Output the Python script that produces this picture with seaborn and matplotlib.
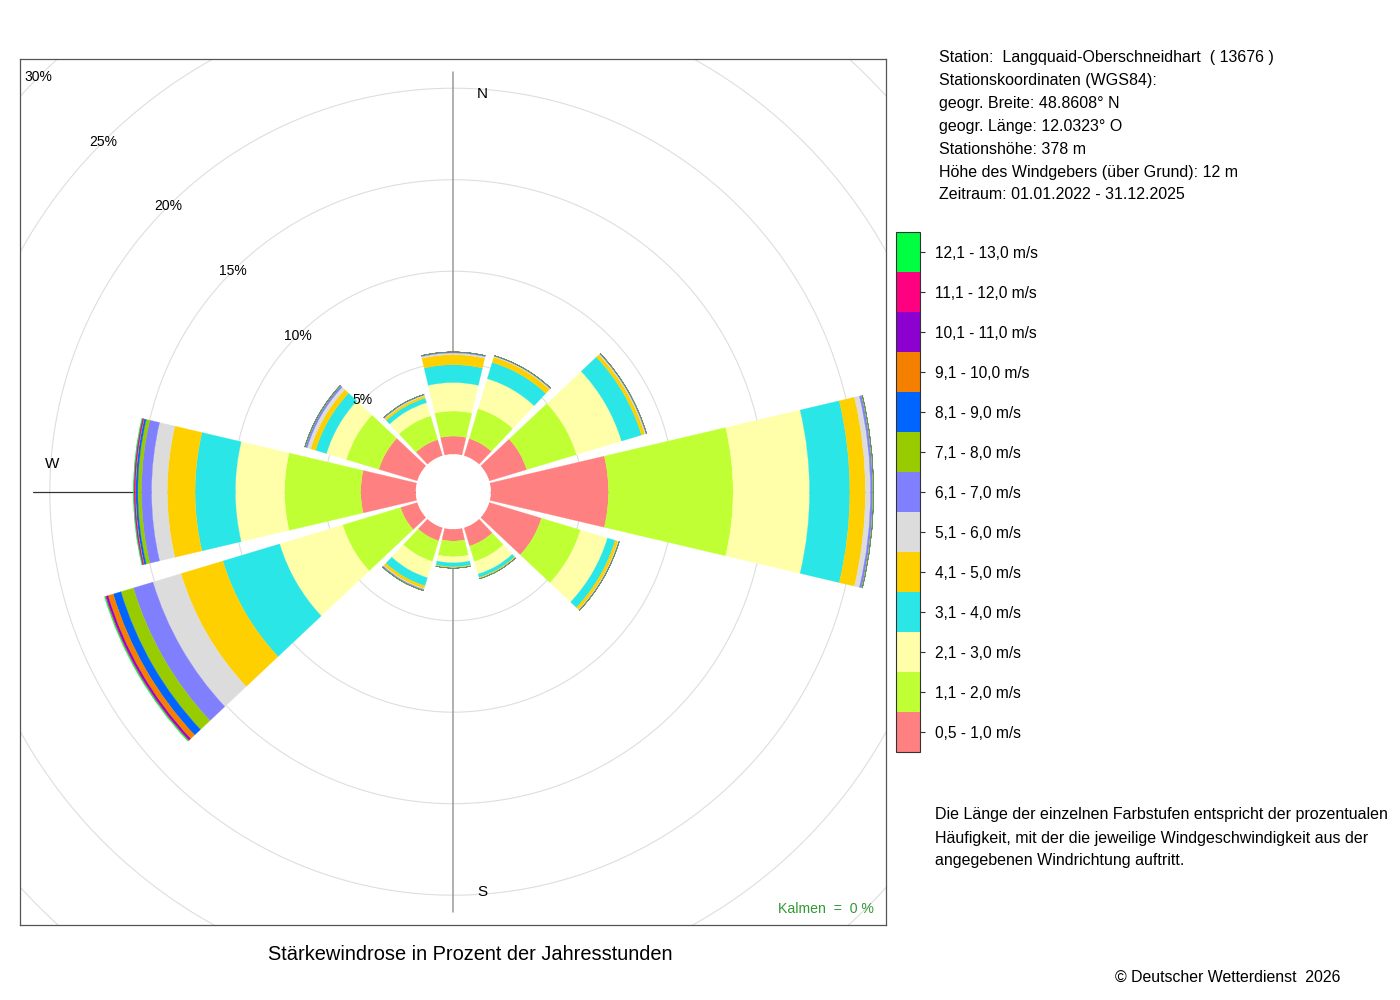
import numpy as np
import matplotlib
matplotlib.use("Agg")
import matplotlib.pyplot as plt
from matplotlib.patches import Rectangle
from matplotlib.colors import ListedColormap, BoundaryNorm
from matplotlib.cm import ScalarMappable
import seaborn as sns

# ---------------- data ----------------
directions = [0, 30, 60, 90, 120, 150, 180, 210, 240, 270, 300, 330]

speed_classes = ["0,5 - 1,0 m/s", "1,1 - 2,0 m/s", "2,1 - 3,0 m/s", "3,1 - 4,0 m/s",
                 "4,1 - 5,0 m/s", "5,1 - 6,0 m/s", "6,1 - 7,0 m/s", "7,1 - 8,0 m/s",
                 "8,1 - 9,0 m/s", "9,1 - 10,0 m/s", "10,1 - 11,0 m/s", "11,1 - 12,0 m/s",
                 "12,1 - 13,0 m/s"]

class_colors = ["#FF8080", "#C0FF33", "#FFFFAA", "#2AE6E6", "#FFD000", "#DCDCDC",
                "#8080FF", "#99CC00", "#0064FF", "#F58000", "#8C00D0", "#FF0080",
                "#00FF40"]

# percent of hours per direction (N, 30, 60, E, 120, 150, S, 210, 240, W, 300, 330)
s_0_5_1_0 = [0.99, 0.98, 2.14, 6.43, 2.98, 1.05, 0.65, 0.75, 0.96, 3.01, 2.20, 0.92]
s_1_1_2_0 = [1.37, 1.71, 2.84, 6.81, 2.23, 0.89, 0.86, 1.18, 3.30, 4.16, 1.86, 1.36]
s_2_1_3_0 = [1.56, 1.71, 2.57, 4.18, 1.54, 0.71, 0.33, 0.93, 3.60, 2.69, 1.13, 0.75]
s_3_1_4_0 = [0.97, 0.93, 1.14, 2.20, 0.44, 0.19, 0.22, 0.46, 3.24, 2.20, 0.62, 0.26]
s_4_1_5_0 = [0.55, 0.30, 0.19, 0.85, 0.16, 0.05, 0.05, 0.16, 2.39, 1.52, 0.28, 0.12]
s_5_1_6_0 = [0.09, 0.05, 0.06, 0.28, 0.04, 0.02, 0.01, 0.05, 1.60, 0.86, 0.20, 0.05]
s_6_1_7_0 = [0.05, 0.03, 0.03, 0.12, 0.02, 0.01, 0.01, 0.04, 1.12, 0.55, 0.10, 0.03]
s_7_1_8_0 = [0.01, 0.01, 0.01, 0.04, 0.01, 0.00, 0.00, 0.02, 0.71, 0.20, 0.03, 0.01]
s_8_1_9_0 = [0.00, 0.00, 0.00, 0.01, 0.00, 0.00, 0.00, 0.01, 0.44, 0.11, 0.01, 0.00]
s_9_1_10_0 = [0.00, 0.00, 0.00, 0.00, 0.00, 0.00, 0.00, 0.00, 0.30, 0.04, 0.00, 0.00]
s_10_1_11_0 = [0.00, 0.00, 0.00, 0.00, 0.00, 0.00, 0.00, 0.00, 0.10, 0.04, 0.00, 0.00]
s_11_1_12_0 = [0.00, 0.00, 0.00, 0.00, 0.00, 0.00, 0.00, 0.00, 0.05, 0.03, 0.00, 0.00]
s_12_1_13_0 = [0.00, 0.00, 0.00, 0.00, 0.00, 0.00, 0.00, 0.00, 0.05, 0.03, 0.00, 0.00]

series = [s_0_5_1_0, s_1_1_2_0, s_2_1_3_0, s_3_1_4_0, s_4_1_5_0, s_5_1_6_0, s_6_1_7_0,
          s_7_1_8_0, s_8_1_9_0, s_9_1_10_0, s_10_1_11_0, s_11_1_12_0, s_12_1_13_0]

ring_values = [5, 10, 15, 20, 25, 30]
ring_labels = ["5%", "10%", "15%", "20%", "25%", "30%"]

info_lines = ["Station:  Langquaid-Oberschneidhart  ( 13676 )",
              "Stationskoordinaten (WGS84):",
              "geogr. Breite: 48.8608° N",
              "geogr. Länge: 12.0323° O",
              "Stationshöhe: 378 m",
              "Höhe des Windgebers (über Grund): 12 m",
              "Zeitraum: 01.01.2022 - 31.12.2025"]
note_lines = ["Die Länge der einzelnen Farbstufen entspricht der prozentualen",
              "Häufigkeit, mit der die jeweilige Windgeschwindigkeit aus der",
              "angegebenen Windrichtung auftritt."]
title_text = "Stärkewindrose in Prozent der Jahresstunden"
calm_text = "Kalmen  =  0 %"
copyright_text = "© Deutscher Wetterdienst  2026"

# ---------------- style ----------------
sns.set_theme(style="white")
plt.rcParams['font.family'] = ['Liberation Sans', 'DejaVu Sans']
plt.rcParams['text.color'] = 'black'
plt.rcParams['ytick.color'] = 'black'
plt.rcParams['xtick.color'] = 'black'
palette = sns.color_palette(class_colors)

W, H = 1400, 1000
fig = plt.figure(figsize=(14, 10), dpi=100)
fig.patch.set_facecolor('white')

cx, cy = 453.3, 491.7      # centre in px (top origin)
k = 18.3                   # px per percent
hole = 37.5                # px
rmax = 32.0
R_px = hole + rmax * k

ax = fig.add_axes([(cx - R_px) / W, (H - cy - R_px) / H, 2 * R_px / W, 2 * R_px / H],
                  projection='polar')
ax.set_theta_zero_location('N')
ax.set_theta_direction(-1)
ax.set_ylim(0, rmax)
ax.set_rorigin(-hole / k)
ax.set_axis_off()

box_l, box_t, box_s = 20, 59, 866
clip_rect = Rectangle((box_l / W, (H - box_t - box_s) / H), box_s / W, box_s / H,
                      transform=fig.transFigure, facecolor='none')

# rings
theta_full = np.linspace(0, 2 * np.pi, 1441)
for r in ring_values:
    ln, = ax.plot(theta_full, np.full_like(theta_full, r), color='#DEDEDE', lw=0.8, zorder=0.5)
    ln.set_clip_path(clip_rect)

# axis lines
L = 20.9
ax.plot([0, np.pi], [L, L], color='#9A9A9A', lw=1.1, zorder=0.8)
ax.plot([1.5 * np.pi, 0.5 * np.pi], [L, L], color='#333333', lw=0.9, zorder=0.8)

# stacked bars
theta = np.radians(directions)
width = np.radians(26.5)
bottom = np.zeros(len(directions))
for vals, col in zip(series, palette):
    vals = np.asarray(vals, dtype=float)
    ax.bar(theta, vals, width=width, bottom=bottom, color=col, edgecolor=col,
           linewidth=0.2, zorder=2, align='center')
    bottom += vals

# ring labels along NW
for r, lab in zip(ring_values, ring_labels):
    ax.text(np.radians(315), r, lab, ha='center', va='center', fontsize=10,
            color='black', zorder=5)

# direction labels
ax.text(np.radians(4.1), 19.75, "N", ha='center', va='center', fontsize=11, zorder=5)
ax.text(np.radians(175.9), 19.9, "S", ha='center', va='center', fontsize=11, zorder=5)
ax.text(np.radians(273.95), 19.9, "W", ha='center', va='center', fontsize=11, zorder=5)

# frame
fax = fig.add_axes([box_l / W, (H - box_t - box_s) / H, box_s / W, box_s / H])
fax.set_facecolor('none')
fax.set_xticks([])
fax.set_yticks([])
for s in fax.spines.values():
    s.set_visible(True)
    s.set_color('#555555')
    s.set_linewidth(0.9)

fig.text(874 / W, 1 - 913 / H, calm_text, ha='right', va='baseline',
         color='#339933', fontsize=10.2)

# legend as colour bar
cax = fig.add_axes([896 / W, (H - 752) / H, 24 / W, 520 / H])
cmap = ListedColormap(class_colors)
norm = BoundaryNorm(np.arange(len(class_colors) + 1), len(class_colors))
cb = fig.colorbar(ScalarMappable(norm=norm, cmap=cmap), cax=cax,
                  ticks=np.arange(len(class_colors)) + 0.5)
cb.minorticks_off()
cb.ax.set_yticklabels(speed_classes, fontsize=11.2, color='black')
cb.ax.tick_params(axis='y', which='major', length=3.6, width=0.8, color='#333333', pad=7,
                  right=True, left=False, labelright=True, labelleft=False)
cb.ax.tick_params(axis='y', which='minor', length=0, right=False, left=False)
cb.outline.set_edgecolor('#333333')
cb.outline.set_linewidth(0.8)

# text blocks
for i, line in enumerate(info_lines):
    fig.text(939 / W, 1 - (62.0 + 22.9 * i) / H, line, ha='left', va='baseline',
             fontsize=11.5, color='black')
for i, line in enumerate(note_lines):
    fig.text(935 / W, 1 - (819.5 + 23 * i) / H, line, ha='left', va='baseline',
             fontsize=11.5, color='black')

fig.text(470 / W, 1 - 960.5 / H, title_text, ha='center', va='baseline', fontsize=14.4,
         color='black')
fig.text(1115 / W, 1 - 981.5 / H, copyright_text, ha='left', va='baseline', fontsize=11.4,
         color='black')

fig.savefig('out.png', dpi=100, facecolor='white')
